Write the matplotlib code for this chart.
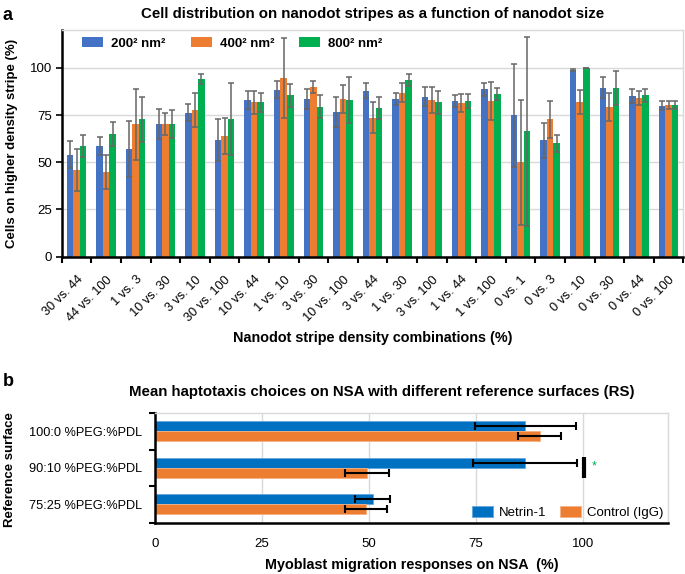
import numpy as np
import matplotlib
matplotlib.use("Agg")
import matplotlib.pyplot as plt
from matplotlib.transforms import ScaledTranslation

plt.rcParams['font.family'] = ['Liberation Sans', 'DejaVu Sans']

# ---- panel a data ----
combos = ["30 vs. 44", "44 vs. 100", "1 vs. 3", "10 vs. 30", "3 vs. 10", "30 vs. 100",
          "10 vs. 44", "1 vs. 10", "3 vs. 30", "10 vs. 100", "3 vs. 44", "1 vs. 30",
          "3 vs. 100", "1 vs. 44", "1 vs. 100", "0 vs. 1", "0 vs. 3", "0 vs. 10",
          "0 vs. 30", "0 vs. 44", "0 vs. 100"]
size_labels = ["200² nm²", "400² nm²", "800² nm²"]
vals_200 = [54, 58.7, 57, 70.2, 76.2, 61.7, 82.9, 88.5, 83.4, 76.5, 87.8, 83.4,
            84.7, 82.4, 88.7, 74.8, 61.7, 98.8, 89.4, 85, 80]
err_200 = [7, 4.8, 14.8, 7.9, 4.4, 11, 4.9, 4.4, 5.3, 7.8, 3.9, 3,
           5.1, 3.1, 3.5, 27.3, 9.2, 0.6, 5.5, 3.7, 2.4]
vals_400 = [45.9, 44.8, 70, 70.2, 77.6, 63.8, 81.7, 94.7, 90, 83.4, 73.5, 86.9,
            82.9, 81.3, 82.5, 49.9, 72.8, 81.8, 79.4, 84.1, 80.3]
err_400 = [11, 9, 18.7, 6, 9.2, 9.4, 6.1, 21.2, 3.1, 7.4, 8.2, 5,
           6.9, 4.6, 10.1, 33.3, 9.7, 6.4, 7.4, 3.6, 2.3]
vals_800 = [58.7, 65, 72.8, 70.2, 94, 72.8, 81.7, 85.5, 79.4, 82.9, 78.8, 93.5,
            81.8, 82.4, 86.1, 66.5, 60, 100, 89.2, 85.5, 80.3]
err_800 = [5.7, 6.4, 12, 7.4, 2.6, 19, 5.1, 6, 6.1, 12, 5.9, 3.1,
           6, 3.5, 3, 50, 4.6, 0, 9, 3.4, 2.3]

# ---- panel b data ----
surfaces = ["100:0 %PEG:%PDL", "90:10 %PEG:%PDL", "75:25 %PEG:%PDL"]
netrin = [86.5, 86.5, 50.9]
netrin_err = [11.8, 12.1, 4.1]
control = [89.9, 49.5, 49.3]
control_err = [5, 5.2, 5]

fig = plt.figure(figsize=(6.85, 5.74), dpi=100)
grid_c = '#d9d9d9'

# ================= panel a =================
ax = fig.add_axes([0.0901, 0.5528, 0.9075, 0.3949])
x = np.arange(len(combos))
w = 0.22
series = [(vals_200, err_200, '#4472c4'), (vals_400, err_400, '#ed7d31'), (vals_800, err_800, '#00b050')]
for i, (v, e, c) in enumerate(series):
    ax.bar(x + (i - 1) * w, v, w, color=c, label=size_labels[i], zorder=2)
    ax.errorbar(x + (i - 1) * w, v, yerr=e, fmt='none', ecolor='#666666',
                elinewidth=1.1, capsize=2.5, capthick=1.1, zorder=3)

ax.set_xlim(-0.5, len(combos) - 0.5)
ax.set_ylim(0, 120)
ax.set_yticks([0, 25, 50, 75, 100])
ax.yaxis.grid(True, color=grid_c, lw=1, zorder=0)
ax.set_axisbelow(True)
ax.set_xticks(np.arange(len(combos) + 1) - 0.5)
ax.set_xticklabels([])
ax.set_xticks(x, minor=True)
ax.set_xticklabels(combos, minor=True, rotation=45, ha='right', va='top',
                   rotation_mode='anchor', fontsize=9.2)
ax.tick_params(axis='x', which='minor', length=0, pad=0)
ax.tick_params(axis='x', which='major', direction='out', length=4, width=1.5)
ax.tick_params(axis='y', direction='out', length=4, width=1.2, labelsize=9.5, pad=3)
off = ScaledTranslation(0 / 100, -17 / 100, fig.dpi_scale_trans)
for lbl in ax.get_xticklabels(minor=True):
    lbl.set_transform(lbl.get_transform() + off)
for s in ['top', 'right']:
    ax.spines[s].set_color(grid_c)
    ax.spines[s].set_linewidth(1)
for s in ['left', 'bottom']:
    ax.spines[s].set_color('black')
    ax.spines[s].set_linewidth(1.8)

ax.set_ylabel('Cells on higher density stripe (%)', fontsize=9.5, fontweight='bold')
ax.set_xlabel('Nanodot stripe density combinations (%)', fontsize=10.4, fontweight='bold')
ax.xaxis.set_label_coords(0.5, -0.33)
ax.yaxis.set_label_coords(-0.07, 0.5)
ax.set_title('Cell distribution on nanodot stripes as a function of nanodot size',
             fontsize=10.8, fontweight='bold', pad=9)
ax.legend(loc='upper left', bbox_to_anchor=(0.0136, 1.022), ncol=3, frameon=False,
          prop={'weight': 'bold', 'size': 9.5}, handlelength=1.6, handleheight=0.8,
          columnspacing=1.9, handletextpad=0.6)

fig.text(0.004, 0.988, 'a', fontsize=13, fontweight='bold', va='top', ha='left')

# ================= panel b =================
bx = fig.add_axes([0.2263, 0.0894, 0.7494, 0.1911])
y = np.arange(len(surfaces))
h = 0.273
bx.barh(y - h / 2, netrin, h, color='#0070c0', edgecolor='#5fa8e0', lw=0.6, label='Netrin-1', zorder=2)
bx.barh(y + h / 2, control, h, color='#ed7d31', edgecolor='#f4b183', lw=0.6, label='Control (IgG)', zorder=2)
bx.errorbar(netrin, y - h / 2, xerr=netrin_err, fmt='none', ecolor='black',
            elinewidth=1.5, capsize=3, capthick=1.5, zorder=3)
bx.errorbar(control, y + h / 2, xerr=control_err, fmt='none', ecolor='black',
            elinewidth=1.5, capsize=3, capthick=1.5, zorder=3)
bx.set_ylim(len(surfaces) - 0.5, -0.5)
bx.set_xlim(0, 120)
bx.set_xticks([0, 25, 50, 75, 100])
bx.xaxis.grid(True, color=grid_c, lw=1, zorder=0)
bx.set_axisbelow(True)
bx.set_yticks(np.arange(len(surfaces) + 1) - 0.5)
bx.set_yticklabels([])
bx.set_yticks(y, minor=True)
bx.set_yticklabels(surfaces, minor=True, fontsize=9.2)
bx.tick_params(axis='y', which='minor', length=0, pad=9)
bx.tick_params(axis='y', which='major', direction='out', length=4, width=1.5)
bx.tick_params(axis='x', length=0, labelsize=9.5, pad=11)
for s in ['top', 'right']:
    bx.spines[s].set_color(grid_c)
    bx.spines[s].set_linewidth(1)
for s in ['left', 'bottom']:
    bx.spines[s].set_color('black')
    bx.spines[s].set_linewidth(1.8)

# significance mark
bx.plot([100.2, 100.2], [0.70, 1.265], color='black', lw=3, solid_capstyle='butt', zorder=4)
bx.text(102.2, 0.97, '*', color='#00b050', fontsize=9, ha='left', va='center')

bx.set_xlabel('Myoblast migration responses on NSA  (%)', fontsize=10.4, fontweight='bold', labelpad=6)
bx.set_ylabel('Reference surface', fontsize=9.5, fontweight='bold')
bx.yaxis.set_label_coords(-0.27, 0.48)
bx.set_title('Mean haptotaxis choices on NSA with different reference surfaces (RS)',
             fontsize=10.8, fontweight='bold', pad=12)
bx.title.set_position((0.442, 1.0))
bx.legend(loc='lower right', bbox_to_anchor=(1.0, -0.012), borderaxespad=0, ncol=2, frameon=False,
          fontsize=9.5, handlelength=1.6, handleheight=0.9, columnspacing=1.0, handletextpad=0.45)

fig.text(0.004, 0.335, 'b', fontsize=13, fontweight='bold', va='center', ha='left')

fig.savefig('out.png', dpi=100)
